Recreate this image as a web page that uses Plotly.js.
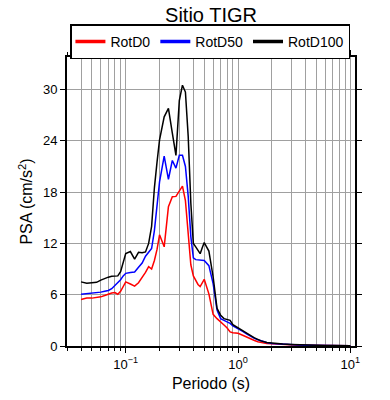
<!DOCTYPE html>
<html>
<head>
<meta charset="utf-8">
<script src="https://cdn.plot.ly/plotly-3.0.1.min.js"></script>
<style>html,body{margin:0;padding:0;background:#fff;}#chart{width:390px;height:400px;}</style>
</head>
<body>
<div id="chart"></div>
<script>
var periods = [0.04, 0.045, 0.05, 0.055, 0.06, 0.065, 0.07, 0.075, 0.08, 0.085, 0.09, 0.095, 0.1, 0.11, 0.12, 0.13, 0.14, 0.15, 0.16, 0.17, 0.18, 0.19, 0.2, 0.22, 0.24, 0.26, 0.28, 0.3, 0.32, 0.34, 0.36, 0.38, 0.4, 0.42, 0.44, 0.46, 0.48, 0.5, 0.55, 0.6, 0.65, 0.7, 0.75, 0.8, 0.85, 0.9, 0.95, 1.0, 1.1, 1.2, 1.3, 1.4, 1.5, 1.6, 1.8, 2.0, 2.2, 2.5, 3.0, 3.5, 4.0, 5.0, 6.0, 7.0, 8.0, 9.0, 10.0];

var rotD0 = [5.45, 5.6, 5.6, 5.65, 5.75, 5.9, 6.1, 6.2, 6.25, 6.05, 6.4, 7.0, 7.5, 7.25, 7.0, 7.4, 7.95, 8.6, 9.27, 9.0, 10.0, 11.3, 13.0, 11.6, 16.3, 17.45, 17.5, 18.1, 18.7, 17.0, 13.0, 9.5, 8.2, 7.6, 7.2, 6.95, 7.4, 7.8, 6.1, 3.7, 3.2, 2.85, 2.45, 2.1, 1.65, 1.55, 1.5, 1.48, 1.25, 1.0, 0.8, 0.65, 0.5, 0.42, 0.3, 0.25, 0.21, 0.17, 0.13, 0.1, 0.085, 0.065, 0.05, 0.045, 0.04, 0.035, 0.035];

var rotD50 = [6.05, 6.1, 6.15, 6.2, 6.3, 6.4, 6.5, 6.7, 7.1, 7.35, 7.75, 8.2, 8.5, 8.6, 8.65, 9.2, 9.7, 10.5, 11.0, 11.4, 13.5, 16.5, 19.2, 22.2, 19.5, 21.7, 20.8, 22.3, 22.3, 21.0, 17.5, 12.8, 10.3, 10.1, 10.05, 10.05, 10.0, 10.0, 9.4, 7.3, 4.2, 3.2, 3.0, 2.8, 2.65, 2.35, 2.15, 2.05, 1.7, 1.4, 1.1, 0.9, 0.72, 0.58, 0.4, 0.3, 0.26, 0.21, 0.16, 0.125, 0.1, 0.075, 0.06, 0.05, 0.045, 0.04, 0.04];

var rotD100 = [7.5, 7.35, 7.4, 7.45, 7.7, 7.9, 8.05, 8.15, 8.2, 8.2, 8.7, 9.8, 10.8, 11.05, 10.15, 10.95, 10.9, 11.0, 12.0, 14.0, 18.5, 21.5, 24.1, 26.8, 27.8, 24.9, 22.3, 28.7, 30.5, 29.7, 24.5, 16.7, 12.0, 11.6, 11.2, 10.8, 11.5, 12.1, 11.1, 8.1, 4.4, 3.6, 3.2, 3.1, 3.0, 2.5, 2.3, 2.2, 1.8, 1.5, 1.2, 0.95, 0.78, 0.6, 0.4, 0.32, 0.27, 0.22, 0.17, 0.13, 0.11, 0.08, 0.06, 0.055, 0.05, 0.045, 0.04];

var seriesNames = ['RotD0', 'RotD50', 'RotD100'];
var seriesColors = ['#ff0000', '#0000ff', '#000000'];
var xTickVals = [0.1, 1, 10];
var xTickText = ['10<sup>\u22121</sup>', '10<sup>0</sup>', '10<sup>1</sup>'];
var yTickVals = [0, 6, 12, 18, 24, 30];

var minorVals = [];
[0.01, 0.1, 1].forEach(function (d) {
  for (var k = 2; k <= 9; k++) minorVals.push(+(d * k).toPrecision(3));
});

var font = "'Liberation Sans', Arial, Helvetica, sans-serif";
var allY = [rotD0, rotD50, rotD100];
var traces = allY.map(function (ys, i) {
  return {
    x: periods, y: ys, type: 'scatter', mode: 'lines',
    name: seriesNames[i], showlegend: false, legendgroup: seriesNames[i],
    line: {color: seriesColors[i], width: 1.5},
    hoverinfo: 'skip'
  };
});
// legend entries with the thicker sample lines of the reference
seriesNames.forEach(function (nm, i) {
  traces.push({
    x: [null], y: [null], type: 'scatter', mode: 'lines',
    name: nm, legendgroup: nm, showlegend: true,
    line: {color: seriesColors[i], width: 3.5}, hoverinfo: 'skip'
  });
});

var layout = {
  width: 390, height: 400,
  margin: {l: 67, r: 35, t: 57, b: 54},
  paper_bgcolor: '#ffffff', plot_bgcolor: '#ffffff',
  font: {family: font, color: '#000', size: 13},
  title: {text: 'Sitio TIGR', font: {size: 20, family: font, color: '#000'},
          xref: 'paper', x: 0.5, xanchor: 'center', y: 0.963, yanchor: 'middle'},
  showlegend: true,
  legend: {orientation: 'h', x: 0.498, xanchor: 'center', y: 1.113, yanchor: 'top',
           bordercolor: '#000', borderwidth: 1.5, bgcolor: '#fff',
           font: {size: 14, family: font}, itemwidth: 30, tracegroupgap: 0},
  xaxis: {
    type: 'log', range: [Math.log10(0.03), Math.log10(11)],
    tickmode: 'array', tickvals: xTickVals, ticktext: xTickText,
    ticks: 'outside', ticklen: 5, tickwidth: 1, tickcolor: '#000',
    showline: true, linecolor: '#000', linewidth: 2, mirror: 'ticks',
    showgrid: true, gridcolor: '#a0a0a0', gridwidth: 1, zeroline: false,
    minor: {tickmode: 'array', tickvals: minorVals, ticks: 'outside', ticklen: 3,
            tickcolor: '#000', showgrid: true, gridcolor: '#a0a0a0', gridwidth: 1},
    tickfont: {size: 13},
    title: {text: 'Periodo (s)', font: {size: 16}, standoff: 7}
  },
  yaxis: {
    range: [0, 33.8],
    tickmode: 'array', tickvals: yTickVals,
    ticks: 'outside', ticklen: 5, tickwidth: 1, tickcolor: '#000',
    showline: true, linecolor: '#000', linewidth: 2, mirror: 'ticks',
    showgrid: true, gridcolor: '#a0a0a0', gridwidth: 1, zeroline: false,
    tickfont: {size: 13},
    title: {text: 'PSA (cm/s<sup>2</sup>)', font: {size: 16}, standoff: 6}
  }
};

Plotly.newPlot('chart', traces, layout, {staticPlot: true, displayModeBar: false});
</script>
</body>
</html>
